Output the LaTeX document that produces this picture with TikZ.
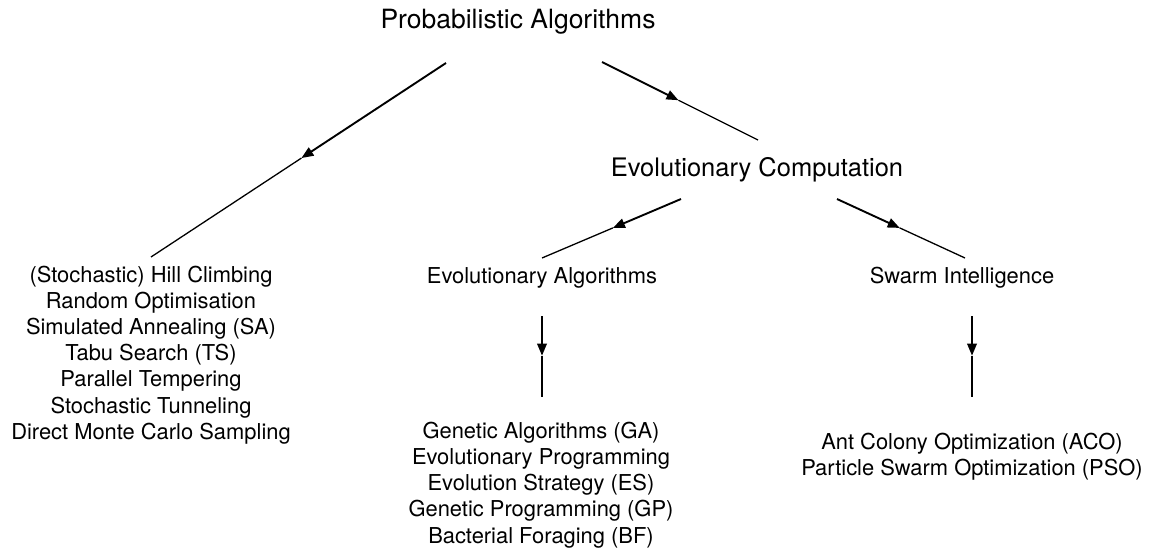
\documentclass[tikz,border=0pt]{standalone}
\usepackage{fontspec}
\setmainfont{TeX Gyre Heros}
\usetikzlibrary{arrows.meta,calc}
% connector: heavy half with the head, then a light half
\newcommand{\conn}[2]{%
  \draw[headpart] (#1) -- ($(#1)!0.49!(#2)$);
  \draw[tailpart] ($(#1)!0.49!(#2)$) -- (#2);}

\begin{document}
\begin{tikzpicture}[x=1pt,y=-1pt,
  headpart/.style={line width=1.9pt,-{Triangle[length=12pt,width=9.5pt]}},
  tailpart/.style={line width=1.3pt},
  big/.style={font=\fontsize{25.5}{30}\selectfont, inner sep=0pt},
  item/.style={font=\fontsize{21.9}{26.2}\selectfont, align=center, inner sep=0pt}]
\useasboundingbox (0,0) rectangle (1156,551);

\node[big, font=\fontsize{26.5}{30}\selectfont] (prob) at (518,22) {Probabilistic Algorithms};
\node[big] (evocomp) at (757,170) {Evolutionary Computation};
\node[item] (evoalg) at (542,278) {Evolutionary Algorithms};
\node[item] (swarm) at (962,278) {Swarm Intelligence};

\node[item] (local) at (151,355) {(Stochastic) Hill Climbing\\Random Optimisation\\
  Simulated Annealing (SA)\\Tabu Search (TS)\\Parallel Tempering\\
  Stochastic Tunneling\\Direct Monte Carlo Sampling};
\node[item] (ealist) at (541,485) {Genetic Algorithms (GA)\\Evolutionary Programming\\
  Evolution Strategy (ES)\\Genetic Programming (GP)\\Bacterial Foraging (BF)};
\node[item] (silist) at (972,457) {Ant Colony Optimization (ACO)\\Particle Swarm Optimization (PSO)};

% line ends
\coordinate (prob-l) at (446,63);   \coordinate (local-t) at (151,257);
\coordinate (prob-r) at (602,62);   \coordinate (evocomp-t) at (758,140);
\coordinate (evocomp-l) at (681,199); \coordinate (evoalg-t) at (542,258);
\coordinate (evocomp-r) at (837,199); \coordinate (swarm-t) at (965,258);
\coordinate (evoalg-b) at (542,316); \coordinate (ealist-t) at (542,397);
\coordinate (swarm-b) at (972,316);  \coordinate (silist-t) at (972,397);

\conn{prob-l}{local-t}
\conn{prob-r}{evocomp-t}
\conn{evocomp-l}{evoalg-t}
\conn{evocomp-r}{swarm-t}
\conn{evoalg-b}{ealist-t}
\conn{swarm-b}{silist-t}
\end{tikzpicture}
\end{document}
